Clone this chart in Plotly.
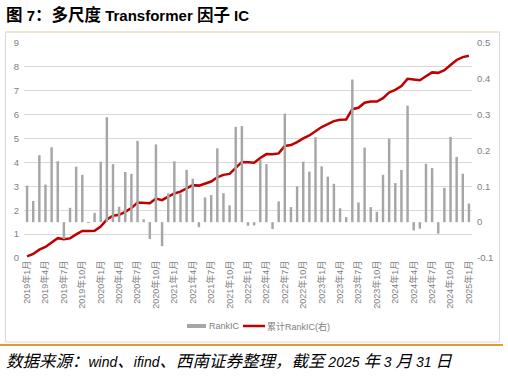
import plotly.graph_objects as go

# ---- data ----
months = []
for y in range(2019, 2026):
    for m in range(1, 13):
        if (y, m) <= (2025, 1):
            months.append(f"{y}年{m}月")

tick_labels = months[::3]

rank_ic = [0.102, 0.059, 0.187, 0.105, 0.209, 0.170, -0.047, 0.040, 0.155, 0.132,
           -0.002, 0.026, 0.169, 0.293, 0.162, 0.043, 0.140, 0.135, 0.227, 0.008,
           -0.047, 0.217, -0.067, 0.080, 0.170, 0.080, 0.146, 0.121, -0.014, 0.069,
           0.076, 0.206, 0.081, 0.047, 0.266, 0.268, -0.010, -0.009, 0.174, 0.162,
           -0.019, 0.058, 0.303, 0.042, 0.100, 0.169, 0.141, 0.237, 0.156, 0.127,
           0.107, 0.039, 0.014, 0.398, 0.055, 0.208, 0.042, 0.029, 0.132, 0.233,
           0.109, 0.146, 0.325, -0.023, -0.018, 0.163, 0.151, -0.032, 0.096, 0.238,
           0.182, 0.135, 0.052]

cum_rank_ic = [0.07, 0.17, 0.35, 0.46, 0.65, 0.83, 0.79, 0.82, 0.99, 1.13,
               1.13, 1.14, 1.32, 1.61, 1.77, 1.81, 1.93, 2.09, 2.32, 2.32,
               2.29, 2.49, 2.42, 2.57, 2.70, 2.78, 2.93, 3.05, 3.03, 3.10,
               3.20, 3.38, 3.48, 3.52, 3.78, 4.02, 4.01, 3.99, 4.19, 4.35,
               4.34, 4.38, 4.69, 4.73, 4.85, 5.01, 5.13, 5.30, 5.48, 5.60,
               5.73, 5.79, 5.80, 6.23, 6.29, 6.50, 6.55, 6.55, 6.69, 6.93,
               7.04, 7.20, 7.50, 7.47, 7.44, 7.61, 7.77, 7.75, 7.86, 8.08,
               8.29, 8.41, 8.47]

left_ticks = list(range(0, 10))
right_ticks = [-0.1, 0, 0.1, 0.2, 0.3, 0.4, 0.5]
right_tick_text = ["-0.1", "0", "0.1", "0.2", "0.3", "0.4", "0.5"]

series_names = ["RankIC", "累计RankIC(右)"]
bar_color = "#a6a6a6"
line_color = "#c00000"

# ---- figure ----
W, H = 508, 376
ML, MR, MT, MB = 24, 36, 43, 118
PW, PH = W - ML - MR, H - MT - MB

def px(x):
    return (x - ML) / PW

def py(y):
    return (H - MB - y) / PH

FONT = "Liberation Sans, Noto Sans CJK SC, sans-serif"
GRAY = "#808080"

fig = go.Figure()
fig.add_trace(go.Bar(
    x=months, y=rank_ic, name=series_names[0], yaxis="y2",
    marker=dict(color=bar_color, line=dict(width=0)), width=0.4,
))
fig.add_trace(go.Scatter(
    x=months, y=cum_rank_ic, name=series_names[1], yaxis="y",
    mode="lines", line=dict(color=line_color, width=2.5),
))

fig.update_layout(
    width=W, height=H,
    margin=dict(l=ML, r=MR, t=MT, b=MB),
    paper_bgcolor="white", plot_bgcolor="white",
    font=dict(family=FONT, size=9, color=GRAY),
    showlegend=False,
    xaxis=dict(type="category", tickvals=tick_labels, ticktext=tick_labels,
               tickangle=-90, showgrid=False, zeroline=False, showline=False,
               ticks="", range=[-0.5, len(months) - 0.5],
               tickfont=dict(size=9, color=GRAY)),
    yaxis=dict(range=[0, 9], tickvals=left_ticks, showgrid=True, gridcolor="#d9d9d9",
               gridwidth=1, zeroline=False, showline=False, ticks="",
               tickfont=dict(size=9.5, color=GRAY), ticklabelstandoff=4),
    yaxis2=dict(range=[-0.1, 0.5], overlaying="y", side="right", tickvals=right_ticks,
                ticktext=right_tick_text, showgrid=False, zeroline=False, showline=False,
                ticks="", tickfont=dict(size=9.5, color=GRAY), ticklabelstandoff=4),
    bargap=0.6,
)

# frame, separator lines
fig.add_shape(type="rect", xref="paper", yref="paper",
              x0=px(5.5), x1=px(499.5), y0=py(342), y1=py(32),
              line=dict(color="#d9d9d9", width=1), fillcolor="rgba(0,0,0,0)", layer="below")
fig.add_shape(type="line", xref="paper", yref="paper",
              x0=px(5.5), x1=px(499.5), y0=py(32), y1=py(32),
              line=dict(color="#f3e3cc", width=1.5))
fig.add_shape(type="line", xref="paper", yref="paper",
              x0=px(0), x1=px(503), y0=py(345), y1=py(345),
              line=dict(color="#e39a35", width=2))

# legend (drawn manually to match the wide swatches)
fig.add_shape(type="rect", xref="paper", yref="paper",
              x0=px(187), x1=px(206), y0=py(328), y1=py(324),
              line=dict(width=0), fillcolor=bar_color)
fig.add_annotation(text=series_names[0], xref="paper", yref="paper", x=px(207), y=py(326),
                   xanchor="left", yanchor="middle", showarrow=False,
                   font=dict(family=FONT, size=9, color=GRAY))
fig.add_shape(type="line", xref="paper", yref="paper",
              x0=px(243), x1=px(265), y0=py(326), y1=py(326),
              line=dict(color=line_color, width=2.5))
fig.add_annotation(text=series_names[1], xref="paper", yref="paper", x=px(265), y=py(326),
                   xanchor="left", yanchor="middle", showarrow=False,
                   font=dict(family=FONT, size=9, color=GRAY))

# title
fig.add_annotation(
    text="<b><span style='font-size:16.5px'>图</span> 7<span style='font-size:16.5px'>：多尺度</span>"
         " Transformer <span style='font-size:16.5px'>因子</span> IC</b>",
    xref="paper", yref="paper", x=px(4), y=py(14),
    xanchor="left", yanchor="middle", showarrow=False,
    font=dict(family=FONT, size=15, color="black"))
# footer
fig.add_annotation(
    text="<i><span style='font-size:16.5px'>数据来源：</span>wind<span style='font-size:16.5px'>、</span>ifind"
         "<span style='font-size:16.5px'>、西南证券整理，截至</span> 2025 <span style='font-size:16.5px'>年</span>"
         " 3 <span style='font-size:16.5px'>月</span> 31 <span style='font-size:16.5px'>日</span></i>",
    xref="paper", yref="paper", x=px(4), y=py(361),
    xanchor="left", yanchor="middle", showarrow=False,
    font=dict(family=FONT, size=14, color="black"))

fig.write_html("out.html", config={"displayModeBar": False},
               post_script="document.body.style.margin='0';")
